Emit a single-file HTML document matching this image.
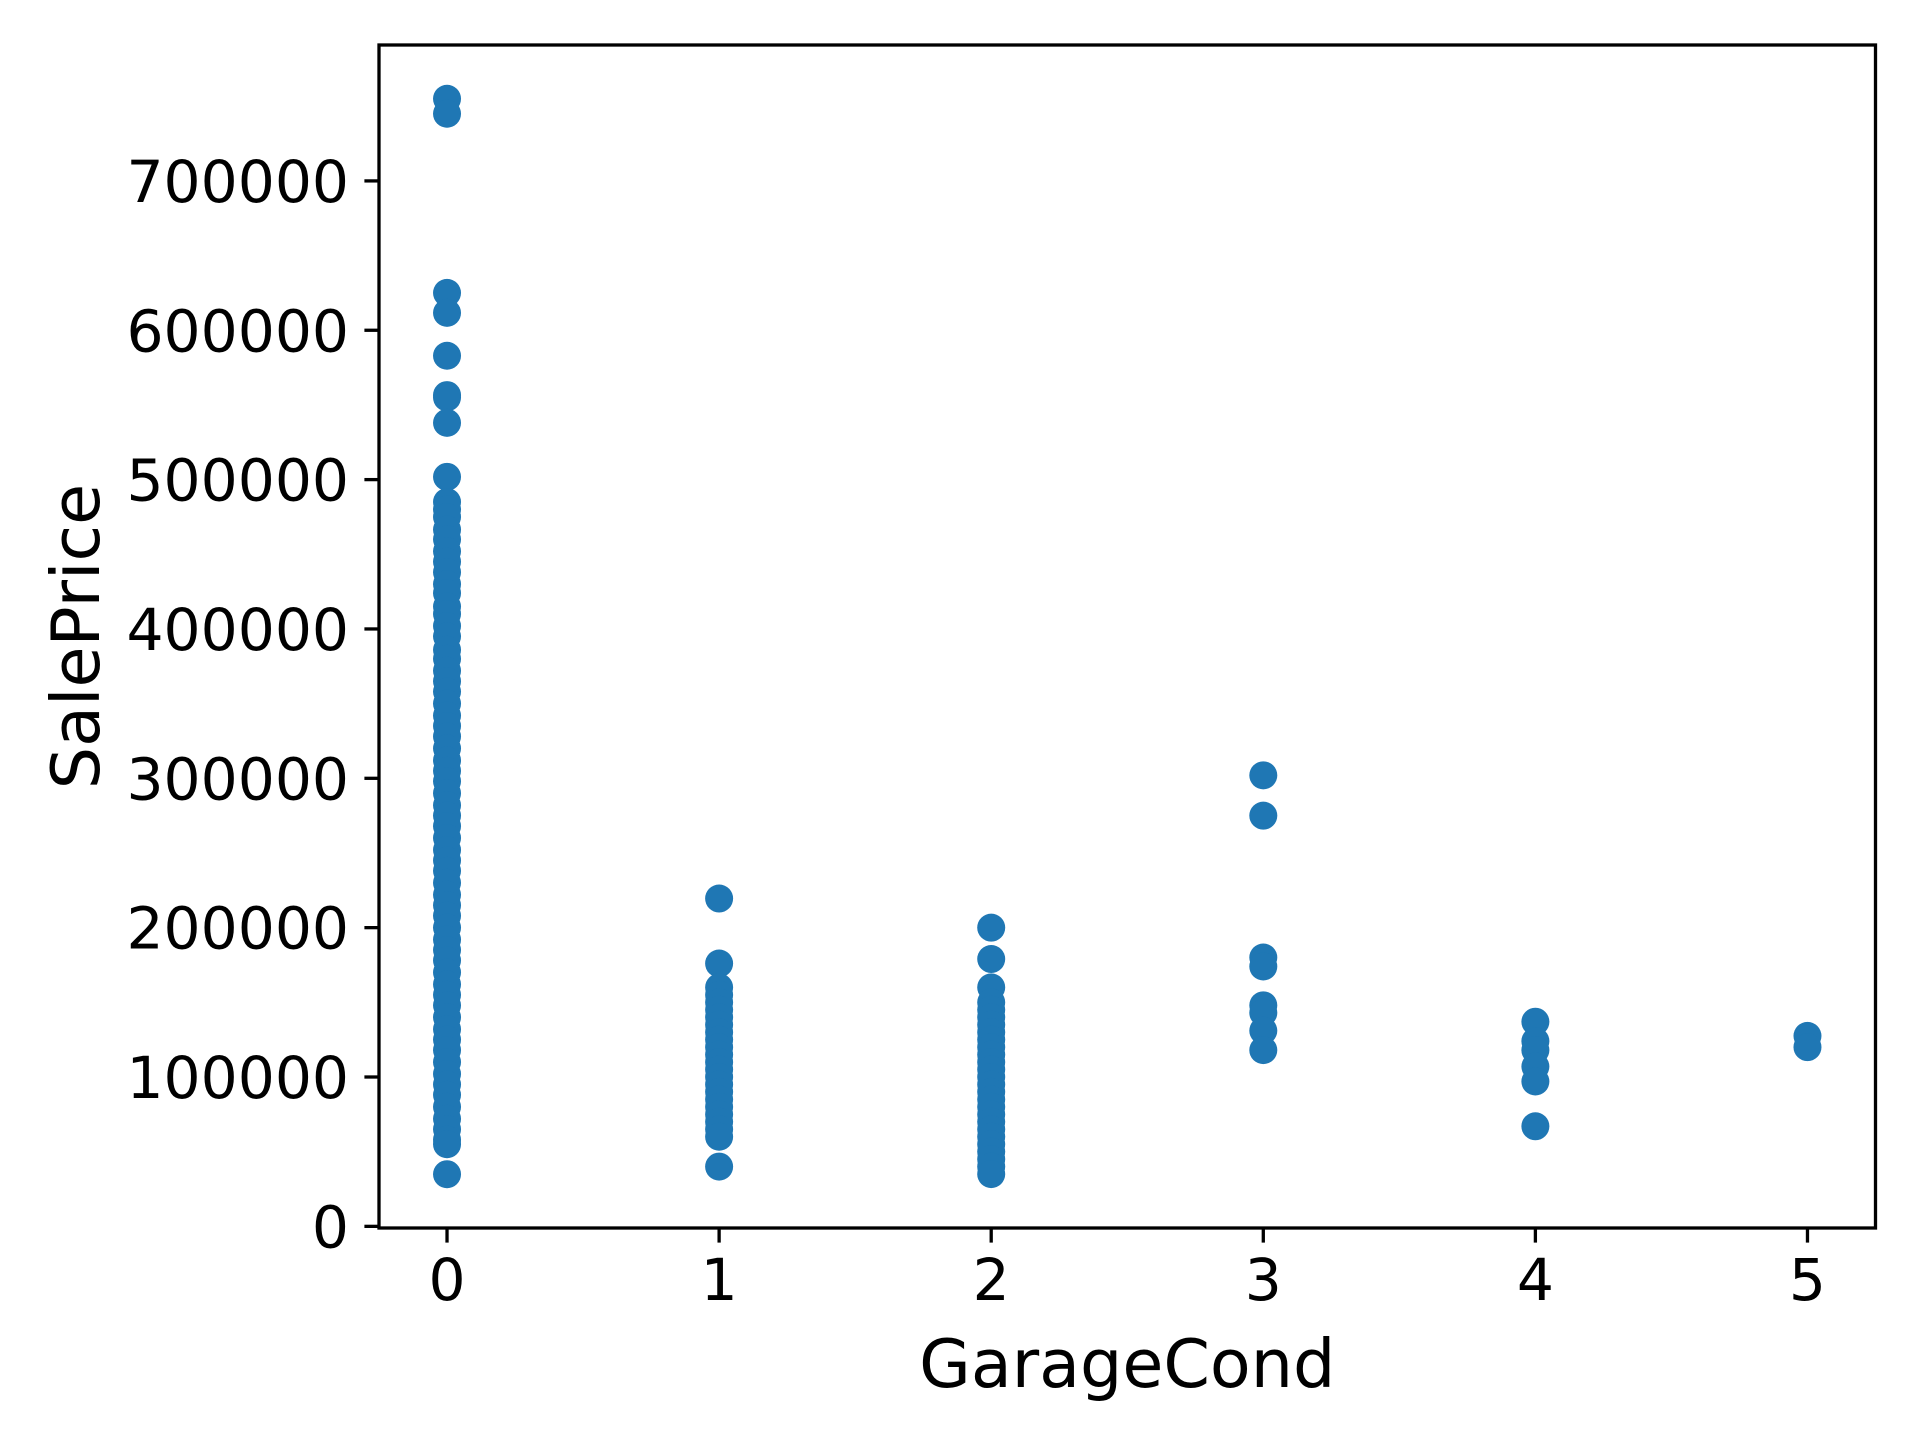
<!DOCTYPE html>
<html><head><meta charset="utf-8"><style>
html,body{margin:0;padding:0;background:#fff;}
svg{display:block;font-family:"DejaVu Sans","Liberation Sans",sans-serif;}
</style></head><body>
<svg id="chart" width="1920" height="1440" viewBox="0 0 1920 1440" xmlns="http://www.w3.org/2000/svg">
<rect x="0" y="0" width="1920" height="1440" fill="#fff"/>
<g id="points"></g>
<g id="axes"></g>
</svg>
<script>
const xCategories = [0, 1, 2, 3, 4, 5];
const xTickLabels = ["0", "1", "2", "3", "4", "5"];
const yTickValues = [0, 100000, 200000, 300000, 400000, 500000, 600000, 700000];
const yTickLabels = ["0", "100000", "200000", "300000", "400000", "500000", "600000", "700000"];
const cond0 = [34900, 755000, 745000, 625000, 611657, 582933, 556581, 555000, 538000, 501837, 485000, 480000, 475000, 466500, 460000, 452000, 445000, 438000, 430000, 424000, 415000, 410000, 402000, 395000, 386000, 380000, 372000, 365000, 358000, 350000, 342000, 335000, 328000, 320000, 312000, 305000, 298000, 290000, 282000, 275000, 268000, 260000, 252000, 245000, 238000, 230000, 222000, 215000, 208000, 200000, 192000, 185000, 178000, 170000, 162000, 155000, 148000, 140000, 132000, 125000, 118000, 110000, 102000, 95000, 88000, 80000, 72000, 65000, 58000, 55000];
const cond1 = [219500, 176000, 160000, 155000, 150000, 145000, 140000, 135000, 130000, 125000, 120000, 115000, 110000, 105000, 100000, 95000, 90000, 85000, 80000, 75000, 70000, 65000, 60000, 40000];
const cond2 = [200000, 179000, 160000, 150000, 145000, 140000, 135000, 130000, 125000, 120000, 115000, 110000, 105000, 100000, 95000, 90000, 85000, 80000, 75000, 70000, 65000, 60000, 55000, 50000, 45000, 40000, 35000];
const cond3 = [302000, 275000, 180000, 174000, 148000, 143000, 131000, 118000];
const cond4 = [137000, 124000, 118000, 107000, 97000, 67000];
const cond5 = [127500, 120000];
const seriesValues = [cond0, cond1, cond2, cond3, cond4, cond5];

const NS = "http://www.w3.org/2000/svg";
const L = 379, R = 1875.5, T = 45, B = 1228;
const xMin = -0.25, xMax = 5.25, yMin = -1105, yMax = 791005;
function xScale(v){ return L + (v - xMin) / (xMax - xMin) * (R - L); }
function yScale(v){ return B - (v - yMin) / (yMax - yMin) * (B - T); }
function mk(tag, attrs, parent){
  const e = document.createElementNS(NS, tag);
  for (const k in attrs) e.setAttribute(k, attrs[k]);
  parent.appendChild(e);
  return e;
}
const pts = document.getElementById('points');
const axes = document.getElementById('axes');
seriesValues.forEach((vals, i) => {
  vals.forEach(v => {
    const c = mk('circle', {cx: xScale(xCategories[i]), cy: yScale(v), r: 14, fill: '#1f77b4'}, pts);
    
    
  });
});
const frame = mk('rect', {x: L, y: T, width: R - L, height: B - T, fill: 'none', stroke: '#000', 'stroke-width': 3.3}, axes);


xCategories.forEach((v, i) => {
  const x = xScale(v);
  const t = mk('line', {x1: x, x2: x, y1: B, y2: B + 14.6, stroke: '#000', 'stroke-width': 3.3}, axes);
  
  
  const tx = mk('text', {x: x, y: B + 72, 'text-anchor': 'middle', 'font-size': 58.3, fill: '#000'}, axes);
  tx.textContent = xTickLabels[i];
  
  
});
yTickValues.forEach((v, i) => {
  const y = yScale(v);
  const t = mk('line', {x1: L - 14.6, x2: L, y1: y, y2: y, stroke: '#000', 'stroke-width': 3.3}, axes);
  
  
  const tx = mk('text', {x: L - 30, y: y + 21, 'text-anchor': 'end', 'font-size': 58.3, fill: '#000'}, axes);
  tx.textContent = yTickLabels[i];
  
  
});
const xl = mk('text', {x: (L + R) / 2, y: 1387, 'text-anchor': 'middle', 'font-size': 66.7, fill: '#000'}, axes);
xl.textContent = 'GarageCond';


const yl = mk('text', {x: 0, y: 0, 'text-anchor': 'middle', 'font-size': 66.7, fill: '#000', transform: 'translate(99,' + ((T + B) / 2) + ') rotate(-90)'}, axes);
yl.textContent = 'SalePrice';


</script>
</body></html>
